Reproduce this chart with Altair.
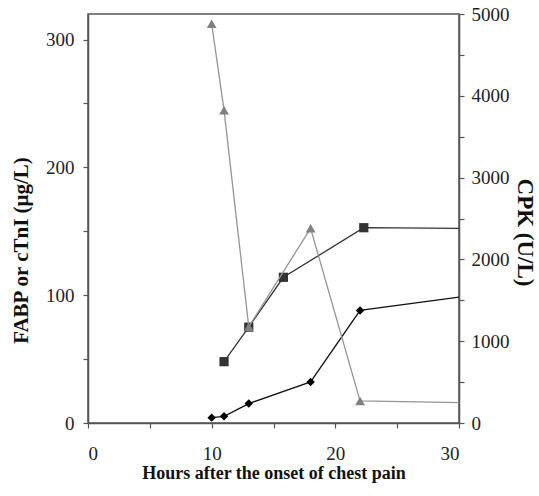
import altair as alt
import pandas as pd

# FABP (diamonds, left axis)
fabp_hours = [10, 11, 13, 18, 22, 30]
fabp_vals = [4.2, 5.2, 15.2, 32.1, 88.1, 98.5]
# cTnI (squares, left axis)
ctni_hours = [11, 13, 15.8, 22.3, 30]
ctni_vals = [48, 75, 114, 152.8, 152.2]
# CPK (triangles, right axis)
cpk_hours = [10, 11, 13, 18, 22, 30]
cpk_vals = [4880, 3824, 1176, 2380, 270, 250]

x_ticks = [0, 5, 10, 15, 20, 25, 30]
left_ticks = [0, 50, 100, 150, 200, 250, 300]
right_ticks = [0, 500, 1000, 1500, 2000, 2500, 3000, 3500, 4000, 4500, 5000]

fabp = pd.DataFrame({"hours": fabp_hours, "value": fabp_vals})
ctni = pd.DataFrame({"hours": ctni_hours, "value": ctni_vals})
cpk = pd.DataFrame({"hours": cpk_hours, "value": cpk_vals})

SERIF = "Liberation Serif, Times New Roman, serif"

common_axis = dict(
    labelFont=SERIF,
    labelFontSize=19,
    labelColor="#222222",
    titleFont=SERIF,
    titleFontWeight="bold",
    titleColor="#111111",
    tickSize=5,
)

x_enc = alt.X(
    "hours:Q",
    scale=alt.Scale(domain=[0, 30], nice=False),
    axis=alt.Axis(
        values=x_ticks,
        labelExpr="datum.value % 10 === 0 ? datum.label : ''",
        title="Hours after the onset of chest pain",
        labelPadding=16,
        titlePadding=1,
        titleFontSize=18,
        **common_axis,
    ),
)

left_y = alt.Y(
    "value:Q",
    scale=alt.Scale(domain=[0, 320], nice=False),
    axis=alt.Axis(
        values=left_ticks,
        format="d",
        labelExpr="datum.value % 100 === 0 ? datum.label : ''",
        title="FABP or cTnI (μg/L)",
        orient="left",
        labelPadding=9,
        titlePadding=14,
        titleFontSize=21,
        titleY=236,
        **common_axis,
    ),
)

right_y = alt.Y(
    "value:Q",
    scale=alt.Scale(domain=[0, 5000], nice=False),
    axis=alt.Axis(
        values=right_ticks,
        format="d",
        labelExpr="datum.value % 1000 === 0 ? datum.label : ''",
        title="CPK (U/L)",
        orient="right",
        labelPadding=7,
        titlePadding=3,
        titleFontSize=23,
        titleY=218,
        **common_axis,
    ),
)

marker_filter = "datum.hours < 30"

fabp_line = alt.Chart(fabp).mark_line(color="#111111", strokeWidth=1.3).encode(x=x_enc, y=left_y)
fabp_pts = alt.Chart(fabp).transform_filter(marker_filter).mark_point(
    shape="diamond", filled=True, color="#000000", size=72, opacity=1
).encode(x=x_enc, y=left_y)

ctni_line = alt.Chart(ctni).mark_line(color="#333333", strokeWidth=1.3).encode(x=x_enc, y=left_y)
ctni_pts = alt.Chart(ctni).transform_filter(marker_filter).mark_point(
    shape="square", filled=True, color="#333333", size=85, opacity=1
).encode(x=x_enc, y=left_y)

cpk_line = alt.Chart(cpk).mark_line(color="#959595", strokeWidth=1.3).encode(x=x_enc, y=right_y)
cpk_pts = alt.Chart(cpk).transform_filter(marker_filter).mark_point(
    shape="triangle-up", filled=True, color="#808080", size=95, opacity=1
).encode(x=x_enc, y=right_y)

left = alt.layer(fabp_line, fabp_pts, ctni_line, ctni_pts)
right = alt.layer(cpk_line, cpk_pts)

chart = (
    alt.layer(left, right)
    .resolve_scale(y="independent")
    .properties(
        width=371,
        height=409,
        autosize=alt.AutoSizeParams(type="none"),
        padding={"left": 88, "top": 14, "right": 80, "bottom": 73},
        background="white",
    )
    .configure_view(stroke="#555555", strokeWidth=1.5)
    .configure_axis(
        grid=False,
        domainColor="#555555",
        domainWidth=1.5,
        tickColor="#555555",
        tickWidth=1.2,
    )
)

chart.save("out.html", embed_options={"renderer": "svg", "actions": False})
